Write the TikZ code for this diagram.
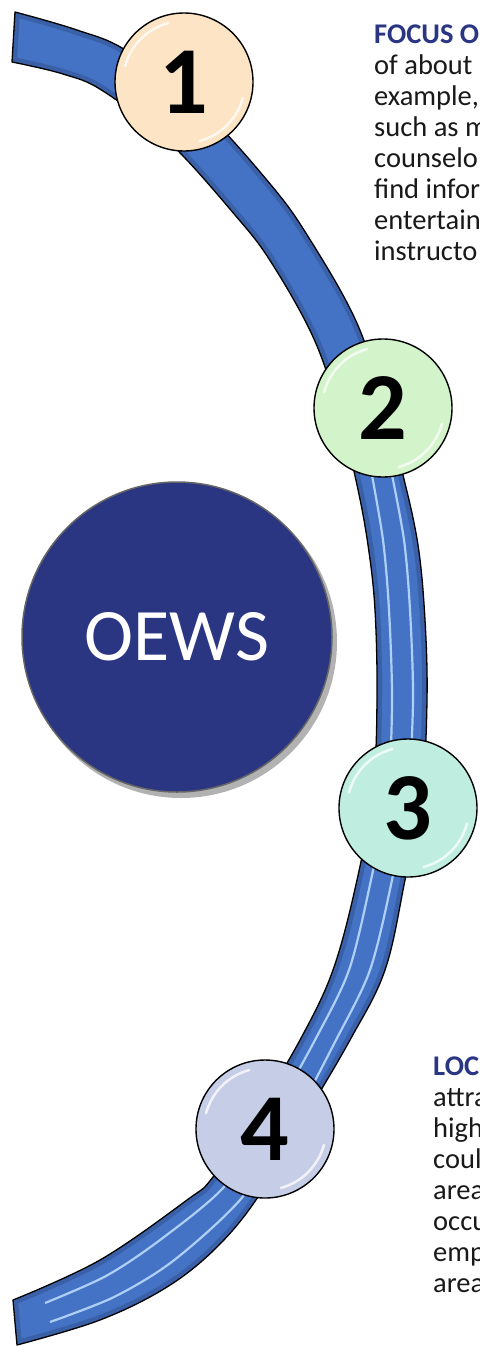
\documentclass[tikz,border=0pt]{standalone}
\usepackage{fontspec}
\setmainfont{Carlito}
\definecolor{bandblue}{RGB}{68,114,196}
\definecolor{stripe}{RGB}{175,208,246}
\definecolor{oewsblue}{RGB}{42,54,130}
\definecolor{peach}{RGB}{252,228,196}
\definecolor{leaf}{RGB}{211,243,203}
\definecolor{aqua}{RGB}{191,238,224}
\definecolor{lilac}{RGB}{198,206,231}
\definecolor{ink}{RGB}{25,25,25}
\tikzset{
    badge/.style={circle, draw=black, line width=1.4pt, minimum size=138pt, inner sep=0pt,
        font=\fontsize{96}{96}\selectfont\bfseries},
    blurb/.style={anchor=north west, align=left, inner sep=0pt, text=ink,
        font=\fontsize{28.5}{31}\selectfont},
    gloss/.style={white, line width=2.5pt, line cap=round, opacity=.75}
}
\def\bandpath{plot[smooth, tension=.6] coordinates {(15,12) (77,30) (127,51) (201,108) (271,185) (309,238) (356,321) (384,404) (403,475) (418,545) (425,620) (427,700) (422,790) (405,880) (385,970) (350,1040) (302,1122) (258,1197) (217,1247) (167,1287) (100,1320) (17,1345)}
    -- plot[smooth, tension=.6] coordinates {(13,1300) (100,1260) (187,1200) (213,1177) (258,1110) (300,1040) (333,970) (357,880) (373,790) (377,700) (375,610) (368,545) (357,485) (340,416) (314,339) (271,262) (235,215) (169,142) (103,91) (63,74) (12,62)} -- cycle}
\begin{document}
\begin{tikzpicture}[x=1pt, y=-1pt]
            \useasboundingbox (0,0) rectangle (479,1346);
            \clip (0,0) rectangle (479,1346);
            \fill[bandblue] \bandpath;
            \begin{scope}
                \clip \bandpath;
                \draw[bandblue!60!black, line width=10pt, opacity=.35] \bandpath;
                \draw[stripe, line width=2.2pt] plot[smooth] coordinates {(371,470) (383,540) (389,610) (392,700) (388,790) (371,880) (349,970) (315,1040) (271,1118) (224,1187) (160,1240) (106,1276) (45,1303)};
                \draw[stripe, line width=2.2pt] plot[smooth] coordinates {(391,470) (404,540) (410,610) (413,700) (408,790) (392,880) (370,970) (336,1040) (289,1128) (240,1200) (173,1261) (114,1297) (50,1322)};
            \end{scope}
            \draw[black, line width=1.3pt, line join=round] \bandpath;
            \fill[black!30] (181,642) circle (156pt);
            \node[circle, fill=oewsblue, draw=black!60, line width=1.5pt, minimum size=310pt, text=white,
                font=\fontsize{74}{74}\selectfont] (oews) at (177,637) {OEWS};
            \node[badge, fill=peach] (b1) at (184,82) {1};
            \node[badge, fill=leaf] (b2) at (383,408) {2};
            \node[badge, fill=aqua] (b3) at (408,808) {3};
            \node[badge, fill=lilac] (b4) at (265,1129) {4};
            \foreach \b in {b1,b2,b3,b4} {
                \draw[gloss] ([shift={(105:61pt)}]\b.center) arc (105:165:61pt);
                \draw[gloss] ([shift={(-75:61pt)}]\b.center) arc (-75:-15:61pt);
            }
            \node[blurb] (focus) at (374,25) {\textcolor{oewsblue}{\textbf{FOCUS O}}\\of about\\example,\\such as m\\counselo\\find infor\\entertain\\instructo};
            \node[blurb] (loc) at (433,1057) {\textcolor{oewsblue}{\textbf{LOC}}\\attra\\high\\coul\\area\\occu\\emp\\area};
\end{tikzpicture}
\end{document}
